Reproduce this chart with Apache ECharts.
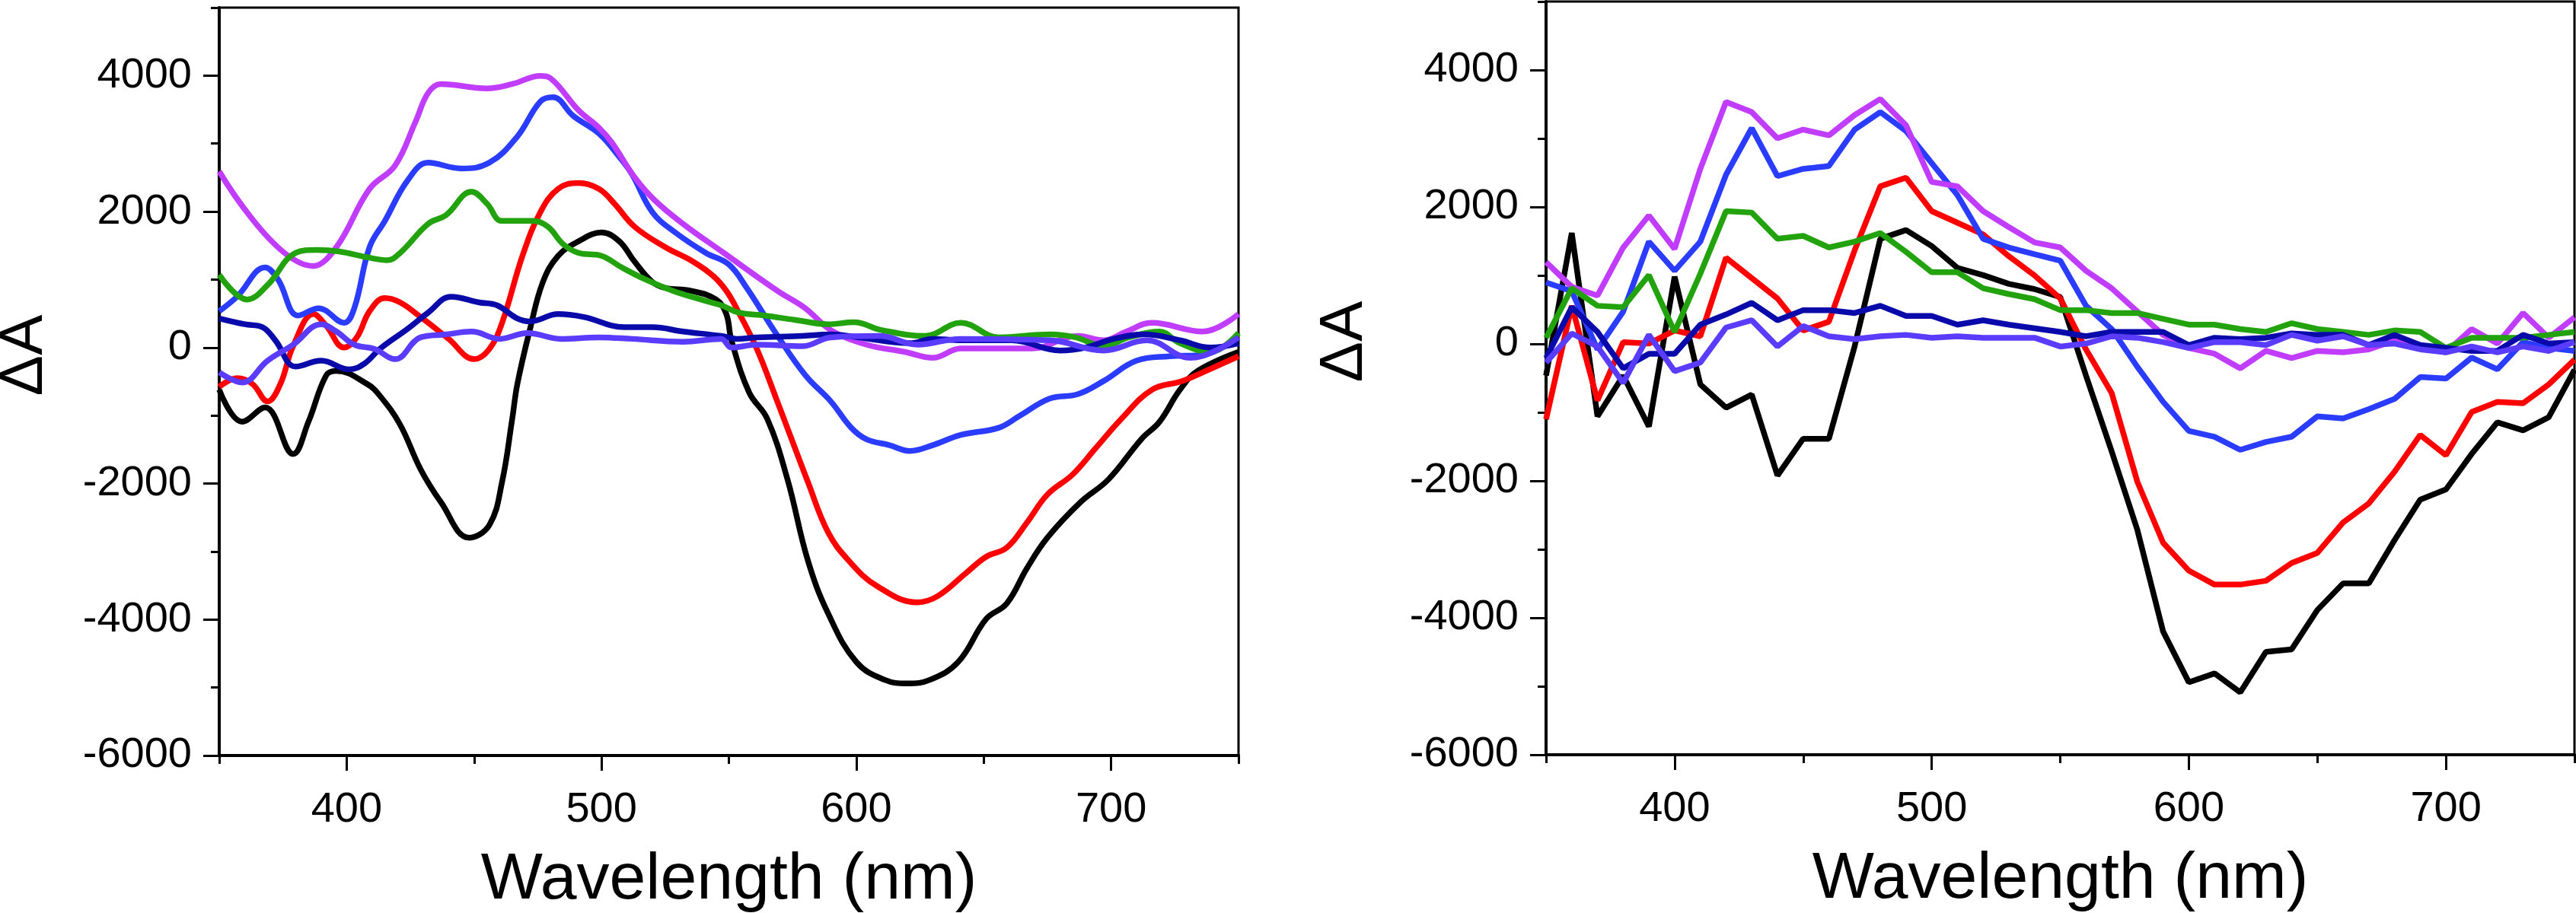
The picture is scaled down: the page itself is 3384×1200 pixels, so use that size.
<!DOCTYPE html>
<html><head><meta charset="utf-8">
<script src="https://cdn.jsdelivr.net/npm/echarts@6/dist/echarts.min.js"></script>
<style>html,body{margin:0;padding:0;background:#fff}#c{width:3384px;height:1200px}</style>
</head><body><div id="c"></div>
<script>
// ---- tick values ----
const xMajorTicks = [400, 500, 600, 700];
const xMinorTicks = [350, 450, 550, 650, 750];
const yMajorTicks = [-6000, -4000, -2000, 0, 2000, 4000];
const yMinorTicks = [-5000, -3000, -1000, 1000, 3000, 5000];
const xTitle = 'Wavelength (nm)';
const yTitle = '\u0394A';

// ---- left panel (smoothed spectra), [wavelength, dA] ----
const leftBlack = [[350,-620],[359,-1090],[368,-880],[379,-1565],[385,-1092],[392,-407],[396,-343],[408,-535],[413,-707],[421,-1135],[429,-1789],[437,-2274],[448,-2796],[456,-2610],[461,-1976],[465,-1043],[467,-535],[472,278],[477,963],[483,1349],[491,1563],[500,1692],[507,1563],[513,1263],[520,963],[525,878],[535,835],[545,707],[549,492],[551,107],[558,-664],[565,-1043],[573,-1938],[581,-3132],[589,-3915],[600,-4624],[611,-4885],[620,-4941],[629,-4885],[640,-4624],[651,-3990],[659,-3766],[667,-3244],[675,-2796],[688,-2274],[699,-1938],[712,-1341],[719,-1092],[727,-621],[734,-343],[750,-64]];
const leftRed = [[350,-578],[357,-450],[363,-535],[369,-792],[374,-535],[379,21],[387,492],[392,321],[399,0],[404,150],[409,535],[415,728],[421,664],[429,450],[440,128],[450,-171],[456,-21],[461,364],[469,1349],[476,1991],[483,2334],[491,2420],[499,2334],[505,2120],[513,1777],[525,1478],[536,1263],[544,1049],[549,835],[553,578],[561,-21],[569,-792],[581,-1976],[589,-2722],[597,-3132],[608,-3505],[624,-3747],[632,-3654],[643,-3318],[651,-3076],[659,-2945],[667,-2572],[675,-2162],[685,-1864],[694,-1477],[704,-1049],[716,-621],[728,-492],[736,-364],[750,-128]];
const leftBlue = [[350,535],[357,749],[368,1178],[373,1006],[381,471],[389,578],[399,364],[403,578],[409,1478],[415,1863],[424,2463],[432,2719],[445,2634],[456,2719],[467,3105],[476,3619],[481,3683],[489,3405],[499,3148],[507,2805],[512,2548],[520,1991],[529,1692],[541,1392],[550,1221],[557,878],[568,236],[580,-407],[590,-792],[598,-1178],[604,-1349],[613,-1435],[621,-1520],[630,-1435],[641,-1285],[656,-1178],[664,-1006],[676,-749],[687,-685],[697,-493],[710,-193],[723,-128],[736,-107],[750,150]];
const leftPurple = [[350,2591],[387,1199],[396,1478],[409,2334],[419,2677],[427,3319],[432,3747],[437,3876],[455,3812],[465,3876],[476,3996],[480,3961],[491,3490],[499,3233],[504,3019],[513,2505],[521,2163],[532,1820],[548,1392],[569,835],[580,578],[590,257],[604,43],[619,-64],[630,-150],[641,-13],[669,-13],[687,171],[697,107],[706,236],[716,364],[736,236],[750,493]];
const leftGreen = [[350,1071],[361,707],[369,921],[380,1392],[388,1435],[397,1413],[408,1328],[416,1285],[421,1392],[432,1820],[439,1949],[449,2291],[455,2120],[461,1863],[473,1863],[479,1777],[485,1520],[491,1392],[500,1349],[508,1178],[517,1006],[528,835],[539,707],[547,621],[554,514],[564,471],[576,407],[589,343],[599,372],[610,257],[627,171],[641,364],[656,150],[676,193],[686,150],[697,21],[707,150],[719,236],[727,64],[739,-64],[750,214]];
const leftNavy = [[350,428],[360,343],[367,300],[372,107],[380,-280],[390,-193],[401,-321],[407,-235],[413,-21],[424,278],[432,514],[441,749],[452,664],[459,621],[467,428],[472,385],[483,492],[493,450],[509,300],[520,300],[532,236],[547,171],[553,128],[561,150],[579,171],[590,193],[601,150],[621,64],[630,128],[641,107],[661,107],[680,-43],[690,0],[701,128],[713,193],[727,107],[739,0],[750,64]];
const leftIndigo = [[350,-364],[359,-514],[369,-193],[379,43],[390,343],[396,235],[403,43],[411,-21],[419,-171],[429,150],[439,193],[449,235],[460,128],[471,214],[484,128],[499,150],[512,128],[532,86],[547,128],[551,0],[561,43],[579,21],[590,150],[609,171],[624,43],[641,128],[676,107],[697,-43],[714,107],[731,-150],[740,-64],[750,150]];

// ---- right panel (10 nm raw points) ----
const rightWavelengths = [350,360,370,380,390,400,410,420,430,440,450,460,470,480,490,500,510,520,530,540,550,560,570,580,590,600,610,620,630,640,650,660,670,680,690,700,710,720,730,740,750];
const rightBlack = [-463,1620,-1058,-463,-1207,983,-591,-931,-740,-1922,-1385,-1385,-38,1535,1663,1429,1110,1004,876,800,685,-463,-1570,-2719,-4200,-4941,-4812,-5089,-4497,-4460,-3886,-3497,-3497,-2867,-2274,-2126,-1608,-1145,-1262,-1070,-378];
const rightRed = [-1101,557,-825,26,5,196,111,1259,961,664,196,324,1365,2301,2428,1939,1769,1599,1280,1000,664,-80,-718,-2015,-2904,-3311,-3515,-3515,-3460,-3200,-3052,-2608,-2330,-1867,-1330,-1626,-995,-846,-867,-591,-229];
const rightBlue = [898,770,-80,472,1493,1068,1493,2471,3151,2450,2556,2598,3130,3385,3109,2641,2173,1535,1408,1310,1216,557,217,-336,-846,-1271,-1356,-1547,-1432,-1356,-1058,-1088,-952,-803,-484,-506,-200,-370,26,-59,-102];
const rightPurple = [1195,834,706,1408,1875,1387,2556,3534,3385,3002,3130,3045,3342,3576,3194,2365,2301,1939,1706,1482,1408,1068,812,472,132,-59,-144,-357,-102,-208,-102,-123,-80,47,-59,-123,217,5,451,90,387];
const rightGreen = [90,813,557,536,1004,175,1025,1939,1918,1535,1578,1408,1493,1620,1344,1046,1046,813,728,653,493,493,451,451,366,281,281,217,175,302,217,175,132,196,175,-59,90,90,90,132,175];
const rightNavy = [-208,536,175,-357,-144,-144,281,430,600,345,493,493,451,557,409,409,281,345,281,228,175,111,175,175,175,-17,90,69,90,153,132,132,-17,132,-17,-59,-102,-102,132,5,26];
const rightIndigo = [-272,153,-38,-570,132,-399,-272,239,345,-38,260,111,69,111,132,90,111,90,90,90,-38,5,111,90,26,-59,26,26,-17,132,47,111,-17,5,-80,-123,-38,-123,-38,-102,26];

const colors = {black:'#000000', red:'#ff0000', blue:'#2a3cff', purple:'#c03cff', green:'#22a30e', navy:'#0a0aaa', indigo:'#5a3cff'};

const FONT = 'Liberation Sans, Arial, sans-serif';
const fmt = v => String(v);

function xAxesFor(gi) {
  return [
    {gridIndex: gi, type: 'value', min: 350, max: 750, interval: 50, position: 'bottom',
     axisLine: {show: true, onZero: false, lineStyle: {color: '#000', width: 4}},
     axisTick: {show: true, customValues: xMajorTicks, length: 20, inside: false, lineStyle: {color: '#000', width: 3}},
     axisLabel: {show: true, customValues: xMajorTicks, formatter: fmt, fontSize: 56, fontFamily: FONT, color: '#000', margin: 44},
     splitLine: {show: false},
     name: xTitle, nameLocation: 'middle', nameGap: 121,
     nameTextStyle: {fontSize: 86, fontFamily: FONT, color: '#000'}},
    {gridIndex: gi, type: 'value', min: 350, max: 750, interval: 50, position: 'bottom',
     axisLine: {show: false, onZero: false},
     axisTick: {show: true, customValues: xMinorTicks, length: 11, inside: false, lineStyle: {color: '#000', width: 3}},
     axisLabel: {show: false}, splitLine: {show: false}}
  ];
}
function yAxesFor(gi) {
  return [
    {gridIndex: gi, type: 'value', min: -6000, max: 5000, interval: 1000, position: 'left',
     axisLine: {show: true, onZero: false, lineStyle: {color: '#000', width: 4}},
     axisTick: {show: true, customValues: yMajorTicks, length: 21, inside: false, lineStyle: {color: '#000', width: 3}},
     axisLabel: {show: true, customValues: yMajorTicks, formatter: fmt, fontSize: 56, fontFamily: FONT, color: '#000', margin: 36},
     splitLine: {show: false}},
    {gridIndex: gi, type: 'value', min: -6000, max: 5000, interval: 1000, position: 'left',
     axisLine: {show: false, onZero: false},
     axisTick: {show: true, customValues: yMinorTicks, length: 11, inside: false, lineStyle: {color: '#000', width: 3}},
     axisLabel: {show: false}, splitLine: {show: false}}
  ];
}

function lineSeries(data, color, xi, yi, smooth) {
  return {type: 'line', xAxisIndex: xi, yAxisIndex: yi, data: data, smooth: smooth,
    symbol: 'none', showSymbol: false, animation: false, clip: true,
    lineStyle: {color: color, width: 7.5}, itemStyle: {color: color}};
}
const zip = (xs, ys) => xs.map((x, i) => [x, ys[i]]);

const leftSet = [[leftBlack,'black'],[leftRed,'red'],[leftBlue,'blue'],[leftPurple,'purple'],[leftGreen,'green'],[leftNavy,'navy'],[leftIndigo,'indigo']];
const rightSet = [[rightBlack,'black'],[rightRed,'red'],[rightBlue,'blue'],[rightPurple,'purple'],[rightGreen,'green'],[rightNavy,'navy'],[rightIndigo,'indigo']];

const series = [];
leftSet.forEach(([d, c]) => series.push(lineSeries(d, colors[c], 0, 0, 0.4)));
rightSet.forEach(([d, c]) => series.push(lineSeries(zip(rightWavelengths, d), colors[c], 2, 2, false)));

const chart = echarts.init(document.getElementById('c'), null, {renderer: 'canvas'});
chart.setOption({
  animation: false,
  backgroundColor: '#ffffff',
  grid: [
    {left: 288, right: 1757, top: 10, bottom: 207, show: true, borderColor: '#000', borderWidth: 3, containLabel: false, outerBoundsMode: 'none'},
    {left: 2031, right: 2, top: 2, bottom: 208, show: true, borderColor: '#000', borderWidth: 3, containLabel: false, outerBoundsMode: 'none'}
  ],
  xAxis: [...xAxesFor(0), ...xAxesFor(1)],
  yAxis: [...yAxesFor(0), ...yAxesFor(1)],
  graphic: [
    {type: 'text', x: 33, y: 467, rotation: Math.PI / 2,
     style: {text: yTitle, fontSize: 80, fontFamily: FONT, fill: '#000', align: 'center', verticalAlign: 'middle'}},
    {type: 'text', x: 1767, y: 449, rotation: Math.PI / 2,
     style: {text: yTitle, fontSize: 80, fontFamily: FONT, fill: '#000', align: 'center', verticalAlign: 'middle'}}
  ],
  series: series
});
</script></body></html>
